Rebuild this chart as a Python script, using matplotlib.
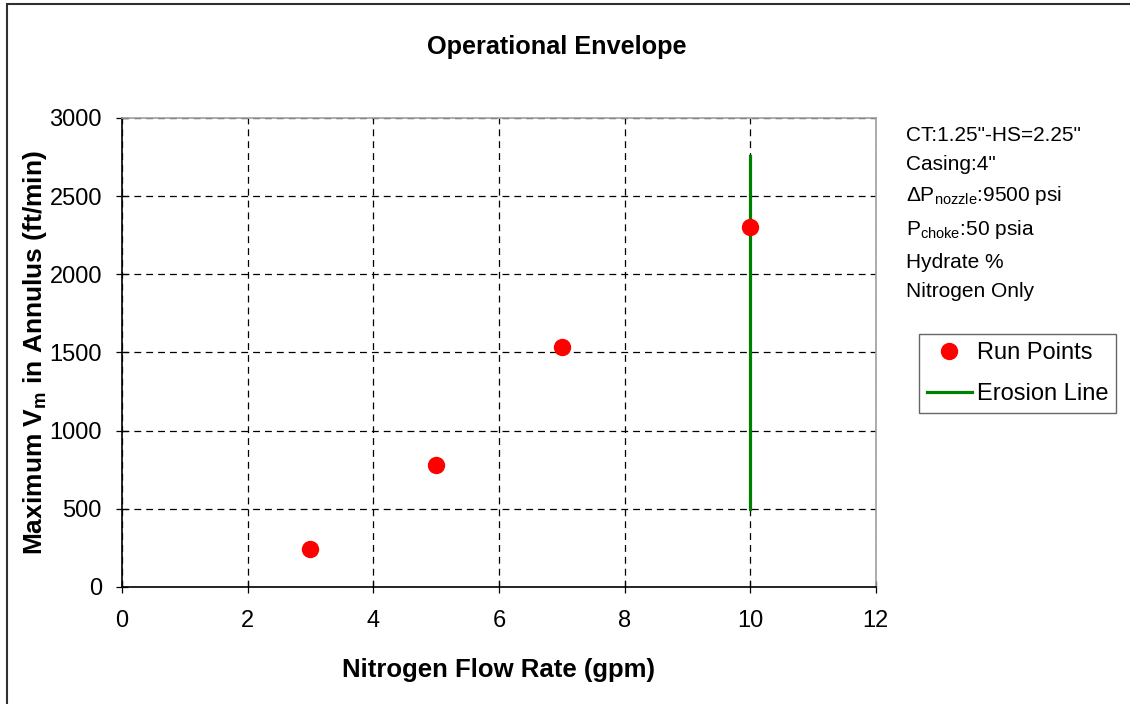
import matplotlib
matplotlib.use('Agg')
import matplotlib.pyplot as plt
from matplotlib.patches import Rectangle

# run data
flow_gpm = [3, 5, 7, 10]
vm_max = [240, 780, 1535, 2300]

# erosion limit at 10 gpm
erosion_x = [10, 10]
erosion_y = [500, 2760]

info_lines = ['CT:1.25"-HS=2.25"',
              'Casing:4"',
              r'$\Delta$P$_{\mathrm{nozzle}}$:9500 psi',
              r'P$_{\mathrm{choke}}$:50 psia',
              'Hydrate %',
              'Nitrogen Only']

plt.rcParams['font.family'] = 'Liberation Sans'
plt.rcParams['mathtext.fontset'] = 'custom'
plt.rcParams['mathtext.rm'] = 'Liberation Sans'
plt.rcParams['mathtext.it'] = 'Liberation Sans:italic'
plt.rcParams['mathtext.bf'] = 'Liberation Sans:bold'

fig = plt.figure(figsize=(11.3, 7.04), dpi=100)
ax = fig.add_axes([0.108, 0.1662, 0.667, 0.6662])

ax.plot(flow_gpm, vm_max, 'o', color='#ff0000', markersize=11.5, label='Run Points', zorder=4)
ax.plot(erosion_x, erosion_y, color='#008000', linewidth=2.3, label='Erosion Line', zorder=3)

ax.set_xlim(0, 12)
ax.set_ylim(0, 3000)
ax.set_xticks(range(0, 13, 2))
ax.set_yticks(range(0, 3001, 500))
ax.grid(True, color='black', linestyle=(0, (5.5, 4)), linewidth=0.9)
ax.set_axisbelow(True)

ax.tick_params(direction='inout', length=9, width=0.9, labelsize=17)
ax.tick_params(axis='x', pad=12)
ax.tick_params(axis='y', pad=10)

for s in ['top', 'right']:
    ax.spines[s].set_color('#a0a0a0')
    ax.spines[s].set_linewidth(1.2)
for s in ['left', 'bottom']:
    ax.spines[s].set_color('black')
    ax.spines[s].set_linewidth(1.2)

ax.set_xlabel('Nitrogen Flow Rate (gpm)', fontsize=18.5, fontweight='bold', labelpad=19)
ax.set_ylabel(r'Maximum V$_{\mathbf{m}}$ in Annulus (ft/min)', fontsize=19,
              fontweight='bold', labelpad=0)
fig.text(0.4925, 0.933, 'Operational Envelope', fontsize=18.2, fontweight='bold',
         ha='center', va='center')

ys = [0.808, 0.766, 0.723, 0.674, 0.627, 0.586]
for y, t in zip(ys, info_lines):
    fig.text(0.802, y, t, fontsize=15, va='center')

leg = fig.legend(loc='upper left', bbox_to_anchor=(0.813, 0.526), fontsize=17,
                 frameon=True, fancybox=False, edgecolor='#404040',
                 borderpad=0.35, labelspacing=0.8, handlelength=1.9,
                 handletextpad=0.2, borderaxespad=0)
leg.get_frame().set_linewidth(1.0)

# outer chart frame
fig.add_artist(Rectangle((7 / 1130, -0.1), 1.2, 1 + 0.1 - 4 / 704, transform=fig.transFigure,
                         fill=False, edgecolor='#303030', linewidth=1.5))

fig.savefig('out.png', dpi=100, facecolor='white')
